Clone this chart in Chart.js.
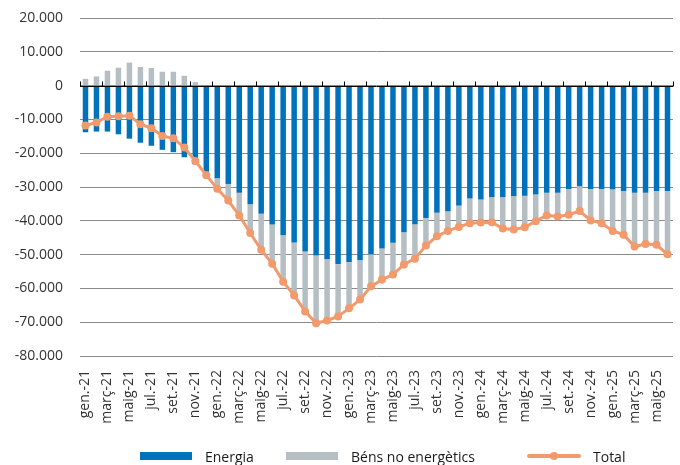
<!DOCTYPE html>
<html>
<head>
<meta charset="utf-8">
<script src="https://cdn.jsdelivr.net/npm/chart.js@4"></script>
<style>
    body { margin: 0; background: #fff; font-family: "Open Sans", sans-serif; }
    #wrap { position: relative; width: 680px; height: 465px; }
    .item { position: absolute; top: 446px; height: 20px; display: flex; align-items: center; font-size: 14px; color: #1a1a1a; white-space: nowrap; }
    .box { width: 52px; height: 8px; margin-right: 13px; }
    .line { width: 54px; height: 8px; margin-right: 12px; position: relative; }
    .line::before { content: ''; position: absolute; left: 0; right: 0; top: 2px; height: 4px; border-radius: 2px; background: #f29a6c; }
    .line::after { content: ''; position: absolute; left: 23px; top: 0; width: 8px; height: 8px; border-radius: 50%; background: #f29a6c; }
</style>
</head>
<body>
<div id="wrap">
    <canvas id="chart"></canvas>
    <div class="item" style="left:140px"><span class="box" style="background:#0071bb"></span>Energia</div>
    <div class="item" style="left:286px"><span class="box" style="background:#b5bec3"></span>Béns no energètics</div>
    <div class="item" style="left:527px"><span class="line"></span>Total</div>
</div>
<script>
// Months, gen.-21 to juny-25
const months = ['gen.', 'febr.', 'març', 'abr.', 'maig', 'juny', 'jul.', 'ag.', 'set.', 'oct.', 'nov.', 'des.'];
const years = ['21', '22', '23', '24', '25'];
const labels = [];
years.forEach(y => months.forEach(m => labels.push(`${m}-${y}`)));
labels.length = 54;

// Series values
const energia = [
    -13800, -13600, -13600, -14400, -15700, -16900, -17800, -19000, -19700, -21200, -23300, -25500,
    -27400, -29100, -31700, -35100, -37900, -41100, -44300, -46400, -49100, -50300, -51400, -52800,
    -52200, -51700, -49900, -48200, -46500, -43400, -41000, -39200, -37600, -37200, -35500, -33400,
    -33700, -33000, -33000, -32700, -32600, -32200, -31700, -31700, -30600, -29800, -30600, -30600,
    -30700, -31200, -31700, -31700, -31200, -31200
];
const bensNoEnergetics = [
    2000, 2700, 4400, 5300, 6800, 5500, 5200, 4100, 4100, 2900, 1000, -1000,
    -3100, -4900, -6700, -8500, -10700, -11600, -13700, -15700, -17700, -20000, -18100, -15500,
    -13700, -11600, -9500, -9200, -9400, -9500, -10200, -8100, -7000, -5800, -6300, -7300,
    -6800, -7400, -9300, -9900, -9300, -7900, -6700, -7000, -7600, -7300, -9300, -10100,
    -12300, -12900, -15900, -15200, -15900, -18700
];
const total = [
    -11800, -10900, -9200, -9100, -8900, -11400, -12600, -14900, -15600, -18300, -22300, -26500,
    -30500, -34000, -38400, -43600, -48600, -52700, -58000, -62100, -66800, -70300, -69500, -68300,
    -65900, -63300, -59400, -57400, -55900, -52900, -51200, -47300, -44600, -43000, -41800, -40700,
    -40500, -40400, -42300, -42600, -41900, -40100, -38400, -38700, -38200, -37100, -39900, -40700,
    -43000, -44100, -47600, -46900, -47100, -49900
];
const yTicks = [20000, 10000, 0, -10000, -20000, -30000, -40000, -50000, -60000, -70000, -80000];

// Zero line with small tick marks every two months
const zeroAxis = {
    id: 'zeroAxis',
    afterDatasetsDraw(chart) {
        const { ctx, chartArea, scales: { x, y } } = chart;
        const y0 = Math.round(y.getPixelForValue(0)) + 0.5;
        ctx.save();
        ctx.strokeStyle = '#000';
        ctx.lineWidth = 1;
        ctx.beginPath();
        ctx.moveTo(chartArea.left, y0);
        ctx.lineTo(chartArea.right, y0);
        for (let i = 0; i <= labels.length; i += 2) {
            let px;
            if (i === 0) px = chartArea.left;
            else if (i >= labels.length) px = chartArea.right;
            else px = (x.getPixelForValue(i - 1) + x.getPixelForValue(i)) / 2;
            px = Math.round(px) + 0.5;
            ctx.moveTo(px, y0);
            ctx.lineTo(px, y0 - 5);
        }
        ctx.stroke();
        ctx.restore();
    }
};

const font = { family: '"Open Sans", sans-serif', size: 14 };

new Chart(document.getElementById('chart'), {
    data: {
        labels: labels,
        datasets: [
            {
                type: 'line',
                label: 'Total',
                data: total,
                stack: 'line',
                borderColor: '#f29a6c',
                backgroundColor: '#f29a6c',
                borderWidth: 3,
                pointRadius: 4,
                pointBackgroundColor: '#f29a6c',
                pointBorderWidth: 0,
                tension: 0,
                order: 0
            },
            {
                type: 'bar',
                label: 'Energia',
                data: energia,
                stack: 'bars',
                backgroundColor: '#0071bb',
                barPercentage: 0.5,
                categoryPercentage: 1,
                order: 1
            },
            {
                type: 'bar',
                label: 'Béns no energètics',
                data: bensNoEnergetics,
                stack: 'bars',
                backgroundColor: '#b5bec3',
                barPercentage: 0.5,
                categoryPercentage: 1,
                order: 1
            }
        ]
    },
    options: {
        responsive: true,
        maintainAspectRatio: false,
        animation: false,
        layout: { padding: { top: 18, right: 7, left: 0, bottom: 0 } },
        plugins: {
            legend: { display: false },
            tooltip: { enabled: false }
        },
        scales: {
            x: {
                stacked: true,
                grid: { display: false },
                border: { display: false },
                ticks: {
                    autoSkip: false,
                    minRotation: 90,
                    maxRotation: 90,
                    padding: 6,
                    color: '#333',
                    font: font,
                    callback: (v, i) => (i % 2 === 0 ? labels[i] : '')
                },
                afterFit: scale => {
                    scale.height = 109;
                    scale.paddingLeft = 0;
                    scale.paddingRight = 0;
                }
            },
            y: {
                stacked: true,
                min: -80000,
                max: 20000,
                afterBuildTicks: scale => { scale.ticks = yTicks.map(v => ({ value: v })); },
                grid: { color: '#8a8a8a', lineWidth: 1, drawTicks: false },
                border: { display: false },
                ticks: {
                    padding: 17,
                    color: '#333',
                    font: font,
                    callback: v => v.toLocaleString('de-DE')
                },
                afterFit: scale => {
                    scale.width = 80;
                    scale.paddingTop = 0;
                    scale.paddingBottom = 0;
                }
            }
        }
    },
    plugins: [zeroAxis]
});
</script>
</body>
</html>
